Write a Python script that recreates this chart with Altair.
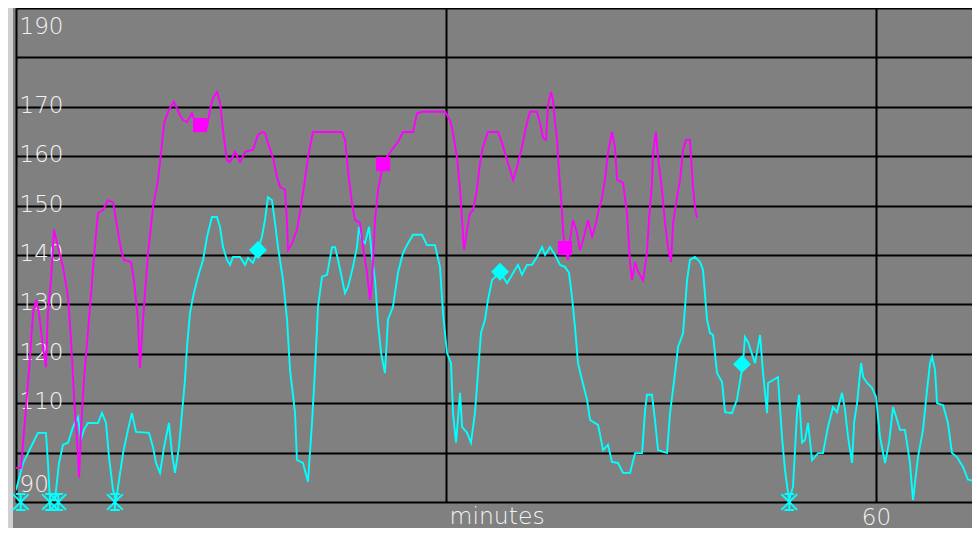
import altair as alt
import pandas as pd

# ---- data (minutes, value) ----
magenta = [
    (0.00, 96.9), (0.35, 96.9), (0.70, 109.2), (0.91, 116.7), (1.19, 128.3), (1.40, 130.9),
    (1.60, 128.3), (1.88, 121.4), (2.09, 117.3), (2.23, 128.3), (2.44, 134.9), (2.65, 145.1),
    (2.93, 141.6), (3.28, 137.6), (3.63, 131.5), (3.84, 122.8), (4.05, 111.3), (4.33, 99.1),
    (4.40, 94.9), (4.53, 104.6), (4.74, 114.7), (5.09, 126.9), (5.44, 139.6), (5.72, 148.5),
    (6.07, 149.1), (6.42, 151.1), (6.77, 150.7), (6.98, 147.1), (7.33, 141.0), (7.53, 139.0),
    (8.02, 138.6), (8.23, 134.9), (8.51, 126.9), (8.65, 117.1), (8.86, 126.9), (9.21, 140.4),
    (9.56, 149.7), (9.91, 155.2), (10.12, 160.7), (10.33, 166.7), (10.67, 169.4), (11.02, 171.0),
    (11.37, 168.7), (11.65, 167.3), (11.93, 166.9), (12.28, 168.7), (12.49, 166.9), (12.84, 166.3),
    (13.33, 165.9), (13.54, 169.4), (13.74, 171.8), (14.03, 173.0), (14.24, 170.8), (14.44, 165.3),
    (14.72, 159.2), (14.93, 158.8), (15.28, 160.9), (15.63, 158.8), (15.98, 160.9), (16.53, 161.3),
    (16.88, 164.3), (17.16, 164.9), (17.37, 164.7), (17.58, 162.7), (17.93, 159.6), (18.21, 155.8),
    (18.42, 153.8), (18.77, 153.2), (18.91, 146.5), (18.98, 141.0), (19.26, 142.4), (19.60, 145.1),
    (19.81, 148.5), (20.16, 155.2), (20.37, 159.8), (20.72, 164.9), (21.07, 164.9), (22.75, 164.9),
    (22.96, 163.3), (23.16, 157.2), (23.44, 150.5), (23.65, 147.1), (24.00, 146.5), (24.21, 141.6),
    (24.49, 136.4), (24.70, 130.9), (24.84, 134.9), (25.05, 147.1), (25.26, 153.2), (25.61, 158.4),
    (25.95, 160.2), (26.23, 161.3), (26.65, 162.9), (27.00, 164.9), (27.70, 164.9), (27.98, 168.7),
    (28.33, 169.0), (29.93, 169.0), (30.28, 167.3), (30.49, 164.7), (30.77, 159.8), (30.98, 153.2),
    (31.12, 147.1), (31.26, 141.0), (31.47, 145.1), (31.68, 148.5), (31.89, 149.1), (32.16, 153.2),
    (32.37, 158.6), (32.58, 161.9), (32.93, 164.9), (33.63, 164.9), (33.91, 162.7), (34.26, 159.2),
    (34.47, 157.2), (34.68, 155.2), (34.96, 157.8), (35.30, 161.9), (35.65, 166.7), (35.86, 169.0),
    (36.35, 169.0), (36.56, 166.7), (36.77, 163.7), (36.98, 163.3), (37.12, 170.4), (37.33, 173.0),
    (37.47, 171.4), (37.61, 166.7), (37.75, 163.3), (37.82, 159.8), (37.96, 153.8), (38.09, 149.1),
    (38.16, 145.1), (38.30, 141.4), (38.51, 139.0), (38.65, 143.0), (38.86, 147.1), (39.14, 144.5),
    (39.35, 141.0), (39.56, 143.0), (39.91, 147.1), (40.19, 143.7), (40.40, 145.7), (40.61, 148.5),
    (40.89, 151.7), (41.09, 155.2), (41.30, 160.7), (41.58, 164.9), (41.79, 161.9), (41.93, 155.2),
    (42.35, 154.6), (42.63, 148.5), (42.84, 138.4), (42.98, 134.9), (43.19, 138.6), (43.40, 136.6),
    (43.75, 134.9), (44.02, 140.4), (44.16, 147.1), (44.37, 154.6), (44.44, 160.7), (44.65, 164.9),
    (44.79, 159.8), (45.07, 153.2), (45.28, 146.5), (45.49, 141.6), (45.70, 138.6), (45.84, 146.5),
    (46.12, 151.7), (46.33, 155.2), (46.54, 161.3), (46.75, 163.3), (47.02, 163.3), (47.23, 153.8),
    (47.37, 149.7), (47.51, 147.5),
]

cyan = [
    (0.00, 92.4), (0.49, 97.9), (0.84, 99.9), (1.19, 102.0), (1.53, 104.0), (2.09, 104.0),
    (2.23, 97.9), (2.37, 90.4), (2.72, 90.4), (3.00, 97.9), (3.28, 101.6), (3.63, 102.0),
    (3.98, 105.2), (4.33, 107.2), (4.53, 102.6), (4.74, 104.6), (5.02, 106.0), (5.72, 106.0),
    (6.00, 108.0), (6.28, 106.0), (6.49, 99.1), (6.77, 92.4), (6.98, 90.4), (7.19, 94.5),
    (7.47, 99.9), (7.81, 104.6), (8.09, 108.0), (8.37, 104.2), (9.28, 104.0), (9.56, 101.1),
    (9.77, 97.9), (10.05, 95.9), (10.33, 101.1), (10.67, 106.0), (10.88, 99.9), (11.09, 95.9),
    (11.37, 101.1), (11.58, 108.0), (11.79, 114.7), (11.93, 121.4), (12.14, 128.3), (12.35, 131.5),
    (12.63, 134.9), (12.84, 137.0), (13.05, 139.0), (13.33, 143.7), (13.67, 147.7), (14.02, 147.7),
    (14.23, 145.7), (14.44, 141.6), (14.72, 139.0), (14.93, 138.0), (15.14, 139.6), (15.63, 139.6),
    (15.98, 138.0), (16.19, 139.4), (16.53, 138.4), (16.88, 141.0), (17.16, 143.7), (17.37, 147.1),
    (17.58, 151.7), (17.86, 151.1), (18.07, 146.5), (18.28, 141.6), (18.63, 134.9), (18.91, 126.9),
    (19.12, 116.7), (19.47, 108.0), (19.60, 98.5), (20.02, 97.9), (20.37, 94.1), (20.65, 106.0),
    (20.86, 116.7), (21.07, 129.5), (21.35, 135.6), (21.70, 136.0), (22.05, 141.6), (22.26, 141.6),
    (22.47, 139.0), (22.81, 134.3), (22.95, 132.3), (23.16, 133.5), (23.51, 137.6), (23.79, 141.6),
    (23.93, 145.7), (24.14, 143.0), (24.35, 142.4), (24.63, 145.7), (24.84, 139.6), (25.05, 134.9),
    (25.26, 126.2), (25.47, 120.2), (25.74, 116.1), (25.95, 126.9), (26.30, 129.5), (26.65, 136.4),
    (27.00, 140.4), (27.35, 142.4), (27.70, 144.1), (28.33, 144.1), (28.67, 142.0), (29.23, 142.0),
    (29.58, 137.6), (29.79, 128.3), (30.07, 120.2), (30.35, 118.1), (30.49, 108.0), (30.70, 102.0),
    (30.98, 112.1), (31.12, 105.2), (31.47, 104.0), (31.74, 102.0), (32.02, 108.0), (32.23, 116.1),
    (32.44, 124.2), (32.72, 126.9), (32.93, 130.9), (33.21, 134.9), (33.77, 136.6), (34.26, 134.3),
    (34.61, 136.0), (35.02, 138.0), (35.30, 136.0), (35.65, 138.0), (36.00, 138.0), (36.35, 139.6),
    (36.70, 141.6), (36.91, 140.0), (37.26, 141.6), (37.61, 140.0), (37.96, 138.0), (38.30, 137.6),
    (38.58, 136.4), (38.79, 131.5), (39.00, 125.4), (39.21, 118.1), (39.49, 114.7), (39.84, 110.7),
    (40.05, 106.6), (40.61, 105.6), (40.96, 100.5), (41.30, 101.6), (41.58, 98.1), (42.00, 97.9),
    (42.35, 95.9), (42.84, 95.9), (43.19, 99.9), (43.68, 99.9), (43.89, 108.6), (44.02, 111.7),
    (44.37, 111.7), (44.58, 106.6), (44.79, 100.5), (45.42, 99.9), (45.63, 108.0), (45.98, 116.1),
    (46.19, 121.4), (46.54, 124.2), (46.82, 134.9), (47.02, 139.0), (47.37, 139.6), (47.72, 138.6),
    (47.93, 137.0), (48.21, 126.9), (48.42, 124.2), (48.63, 123.8), (48.91, 116.1), (49.26, 114.3),
    (49.47, 108.2), (49.95, 108.0), (50.30, 110.7), (50.72, 118.1), (50.86, 123.4), (51.07, 122.4),
    (51.56, 118.1), (51.91, 123.8), (52.12, 116.1), (52.40, 108.0), (52.47, 114.1), (53.16, 115.3),
    (53.44, 103.2), (53.65, 96.5), (53.93, 90.4), (54.21, 93.1), (54.49, 108.0), (54.63, 111.7),
    (54.84, 102.0), (55.05, 102.6), (55.26, 106.0), (55.54, 98.5), (55.96, 99.9), (56.30, 99.9),
    (56.65, 105.2), (57.00, 109.2), (57.28, 108.2), (57.63, 112.1), (57.84, 108.6), (58.05, 103.2),
    (58.33, 97.9), (58.47, 106.0), (58.68, 110.0), (58.96, 118.1), (59.10, 115.3), (59.38, 114.1),
    (59.72, 113.1), (60.00, 111.3), (60.28, 103.2), (60.63, 97.9), (60.91, 102.0), (61.19, 109.2),
    (61.47, 106.6), (61.67, 104.6), (62.02, 104.6), (62.37, 97.9), (62.58, 90.4), (62.93, 99.1),
    (63.28, 104.6), (63.56, 112.7), (63.77, 118.1), (63.91, 119.4), (64.12, 116.7), (64.26, 110.0),
    (64.68, 109.6), (65.02, 106.0), (65.30, 99.9), (65.65, 99.1), (66.07, 97.1), (66.42, 94.5),
    (67.26, 94.1),
]

square_marks = [(12.84, 166.3), (25.61, 158.4), (38.30, 141.4)]
diamond_marks = [(16.88, 141.0), (33.77, 136.6), (50.65, 117.9)]
star_marks = [(0.33, 90.0), (2.37, 90.0), (2.95, 90.0), (6.90, 90.0), (53.95, 90.0)]

y_ticks = [90, 100, 110, 120, 130, 140, 150, 160, 170, 180, 190]
x_ticks = [0, 30, 60]
x_label_shown = 60
x_title = "minutes"

MAG = "#ff00ff"
CYA = "#00ffff"
FONT = "DejaVu Sans"
TXT = "#f2f2f2"

PLOT_W = 956          # 14.33 px per minute
PLOT_H = 494          # 4.94 px per unit
X_MAX = PLOT_W / (860 / 60)


def frame(pairs, name):
    return pd.DataFrame({"minutes": [p[0] for p in pairs],
                         "value": [p[1] for p in pairs],
                         "series": name})


lines_df = pd.concat([frame(cyan, "cyan"), frame(magenta, "magenta")], ignore_index=True)
sq_df = frame(square_marks, "magenta")
di_df = frame(diamond_marks, "cyan")
st_df = frame(star_marks, "cyan")

x_enc = alt.X(
    "minutes:Q",
    scale=alt.Scale(domain=[0, X_MAX], nice=False, zero=False),
    axis=alt.Axis(
        values=x_ticks, grid=True, ticks=False, domain=False,
        gridColor="#000000", gridWidth=2, gridOpacity=1,
        labelExpr=f"datum.value == {x_label_shown} ? '{x_label_shown}' : ''",
        labelPadding=22, labelBaseline="alphabetic", labelFlush=False,
        labelFont=FONT, labelFontSize=23, labelFontWeight=200, labelColor=TXT,
        title=x_title, titleX=433, titleY=21, titleAlign="left",
        titleBaseline="alphabetic", titleFont=FONT, titleFontSize=23.5,
        titleFontWeight=200, titleColor=TXT,
    ),
)

y_enc = alt.Y(
    "value:Q",
    scale=alt.Scale(domain=[90, 190], nice=False, zero=False),
    axis=alt.Axis(
        values=y_ticks, grid=True, ticks=False, domain=False,
        gridColor="#000000", gridWidth=2, gridOpacity=1,
        labelExpr="datum.value == 180 || datum.value == 100 ? '' : datum.label",
        labelAlign="left", labelPadding=-3, labelOverlap=False, labelFlush=False,
        labelOffset={"condition": [{"test": "datum.value == 190", "value": 18},
                                   {"test": "datum.value == 90", "value": -17.5}],
                     "value": -1.5},
        labelFont=FONT, labelFontSize=23, labelFontWeight=200, labelColor=TXT,
        title=None,
    ),
)

color_scale = alt.Scale(domain=["magenta", "cyan"], range=[MAG, CYA])

strip = alt.Chart(pd.DataFrame({"k": [0]})).mark_rect(color="#d0d0d0").encode(
    x=alt.value(-8), x2=alt.value(-3), y=alt.value(0), y2=alt.value(520)
)

lines = alt.Chart(lines_df).mark_line(strokeWidth=1.9, interpolate="linear", clip=True).encode(
    x=x_enc, y=y_enc,
    color=alt.Color("series:N", scale=color_scale, legend=None),
    order=alt.Order("minutes:Q"),
)

squares = alt.Chart(sq_df).mark_point(shape="square", filled=True, size=200, opacity=1).encode(
    x="minutes:Q", y="value:Q",
    color=alt.Color("series:N", scale=color_scale, legend=None),
)

diamonds = alt.Chart(di_df).mark_point(shape="diamond", filled=True, size=320, opacity=1).encode(
    x="minutes:Q", y="value:Q",
    color=alt.Color("series:N", scale=color_scale, legend=None),
)

stars = alt.Chart(st_df).mark_point(
    shape="M-1,-1L1,1M-1,1L1,-1M0,-1L0,1M-0.6,-1L0.6,-1M-0.6,1L0.6,1",
    filled=False, size=250, strokeWidth=2, opacity=1,
).encode(
    x="minutes:Q", y="value:Q",
    color=alt.Color("series:N", scale=color_scale, legend=None),
)

chart = alt.layer(strip, lines, squares, diamonds, stars).properties(
    width=PLOT_W, height=PLOT_H,
    padding={"left": 8, "top": 0, "right": 0, "bottom": 26},
    autosize=alt.AutoSizeParams(type="none"),
    background="#808080",
).configure_view(fill="#808080", stroke="transparent")

chart.save("out.html", embed_options={"renderer": "svg", "actions": False})
